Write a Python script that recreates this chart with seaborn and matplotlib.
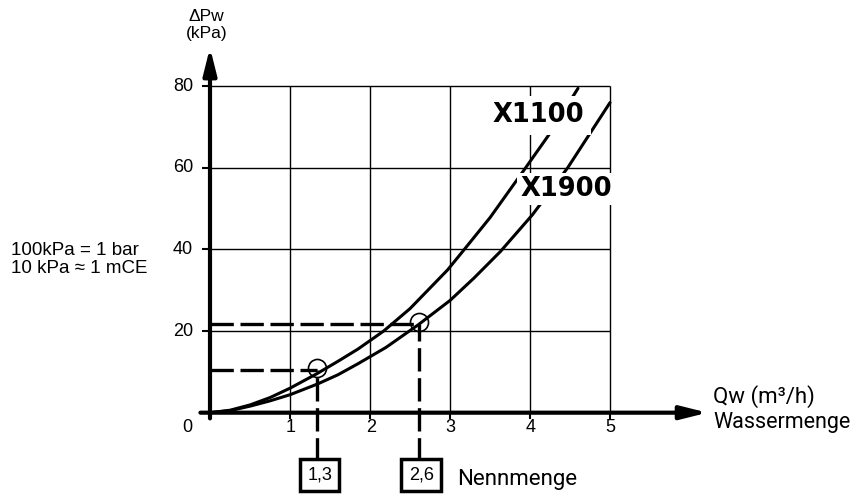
import matplotlib

matplotlib.use("Agg")

import matplotlib.pyplot as plt
import pandas as pd
import seaborn as sns

# pressure drop curves (Qw in m3/h, dPw in kPa)
flow_x1100 = [0, 0.25, 0.5, 0.75, 1.0, 1.34, 1.6, 1.85, 2.17, 2.5, 2.97, 3.17, 3.5, 3.93, 4.25, 4.6]
dp_x1100 = [0, 0.6, 1.9, 3.7, 6.0, 9.6, 12.6, 15.6, 20.0, 25.5, 35.0, 39.8, 47.8, 59.6, 68.5, 79.5]

flow_x1900 = [0, 0.25, 0.5, 0.75, 1.0, 1.34, 1.6, 1.85, 2.2, 2.6, 3.0, 3.3, 3.63, 4.03, 4.47, 5.0]
dp_x1900 = [0, 0.5, 1.6, 2.9, 4.4, 7.0, 9.3, 12.0, 16.0, 21.5, 27.5, 33.0, 39.5, 48.5, 60.0, 76.0]

nominal_flow = [1.34, 2.61]
nominal_dp = [10.4, 21.7]
nominal_labels = ["1,3", "2,6"]

x_ticks = [1, 2, 3, 4, 5]
y_ticks = [20, 40, 60, 80]

curves = pd.concat([
    pd.DataFrame({"Qw": flow_x1100, "dPw": dp_x1100, "model": "X1100"}),
    pd.DataFrame({"Qw": flow_x1900, "dPw": dp_x1900, "model": "X1900"}),
])

sns.set_theme(style="white")
plt.rcParams["font.family"] = ["Liberation Sans", "DejaVu Sans"]
plt.rcParams["text.color"] = "black"
narrow = ["Roboto", "Liberation Sans", "DejaVu Sans"]

fig = plt.figure(figsize=(8.5, 4.94), dpi=100)
ax = fig.add_axes([0, 0, 1, 1])
ax.set_xlim(-2.625, 8.0)
ax.set_ylim(-19.93, 101.15)
ax.axis("off")

# grid and ticks
ax.hlines(y_ticks, 0, max(x_ticks), color="black", lw=1.0, zorder=1)
ax.vlines(x_ticks, 0, max(y_ticks), color="black", lw=1.0, zorder=1)
ax.hlines(y_ticks, -0.1, 0, color="black", lw=1.5, zorder=1)
ax.vlines(x_ticks, -1.5, 0, color="black", lw=1.5, zorder=1)

# curves
sns.lineplot(data=curves, x="Qw", y="dPw", hue="model", palette=["black", "black"],
             estimator=None, sort=False, lw=2.2, legend=False, ax=ax, zorder=3)

# nominal flow markers
dash = (0, (7, 2))
box_top = -11.8
ax.hlines(nominal_dp, 0, nominal_flow, color="black", lw=2.4, linestyles=[dash], zorder=4)
ax.vlines(nominal_flow, box_top, nominal_dp, color="black", lw=2.4, linestyles=[dash], zorder=4)
ax.plot(nominal_flow, [d + 0.6 for d in nominal_dp], "o", ms=13, mfc="none",
        mec="black", mew=1.2, zorder=5)
for q, lab in zip(nominal_flow, nominal_labels):
    ax.text(q + 0.03, -15.3, lab, ha="center", va="center", fontsize=13,
            bbox=dict(boxstyle="square,pad=0.4", fc="white", ec="black", lw=2.5), zorder=6)
ax.text(3.09, -16.3, "Nennmenge", ha="left", va="center", fontsize=16, family=narrow)

# axes with arrows
arrow = dict(arrowstyle="-|>,head_length=0.8,head_width=0.2", color="black",
             lw=3, mutation_scale=20, shrinkA=0, shrinkB=0)
ax.annotate("", xy=(0, 89.5), xytext=(0, -1.4), arrowprops=arrow, zorder=4)
ax.annotate("", xy=(6.22, 0), xytext=(-0.12, 0), arrowprops=arrow, zorder=4)

# tick labels
ax.text(-0.28, -3.6, "0", ha="center", va="center", fontsize=13)
for t in x_ticks:
    ax.text(t + 0.01, -3.6, str(t), ha="center", va="center", fontsize=13)
for t in y_ticks:
    ax.text(-0.21, t, str(t), ha="right", va="center", fontsize=13)

# axis titles and notes
ax.text(-0.04, 95.0, "ΔPw\n(kPa)", ha="center", va="center", fontsize=12.5,
        linespacing=1.15, multialignment="center")
ax.text(6.29, 3.85, "Qw (m³/h)", ha="left", va="center", fontsize=16, family=narrow)
ax.text(6.29, -2.5, "Wassermenge", ha="left", va="center", fontsize=15.5, family=narrow)
ax.text(-2.49, 37.5, "100kPa = 1 bar\n10 kPa ≈ 1 mCE", ha="left", va="center",
        fontsize=13.5, linespacing=1.05)

# curve labels
ax.text(4.11, 72.9, "X1100", ha="center", va="center", fontsize=18.5, weight="bold",
        family="DejaVu Sans", zorder=6,
        bbox=dict(boxstyle="square,pad=0.25", fc="white", ec="none"))
ax.text(4.45, 54.8, "X1900", ha="center", va="center", fontsize=18.5, weight="bold",
        family="DejaVu Sans", zorder=6,
        bbox=dict(boxstyle="square,pad=0.12", fc="white", ec="none"))

fig.savefig("out.png", dpi=100)
